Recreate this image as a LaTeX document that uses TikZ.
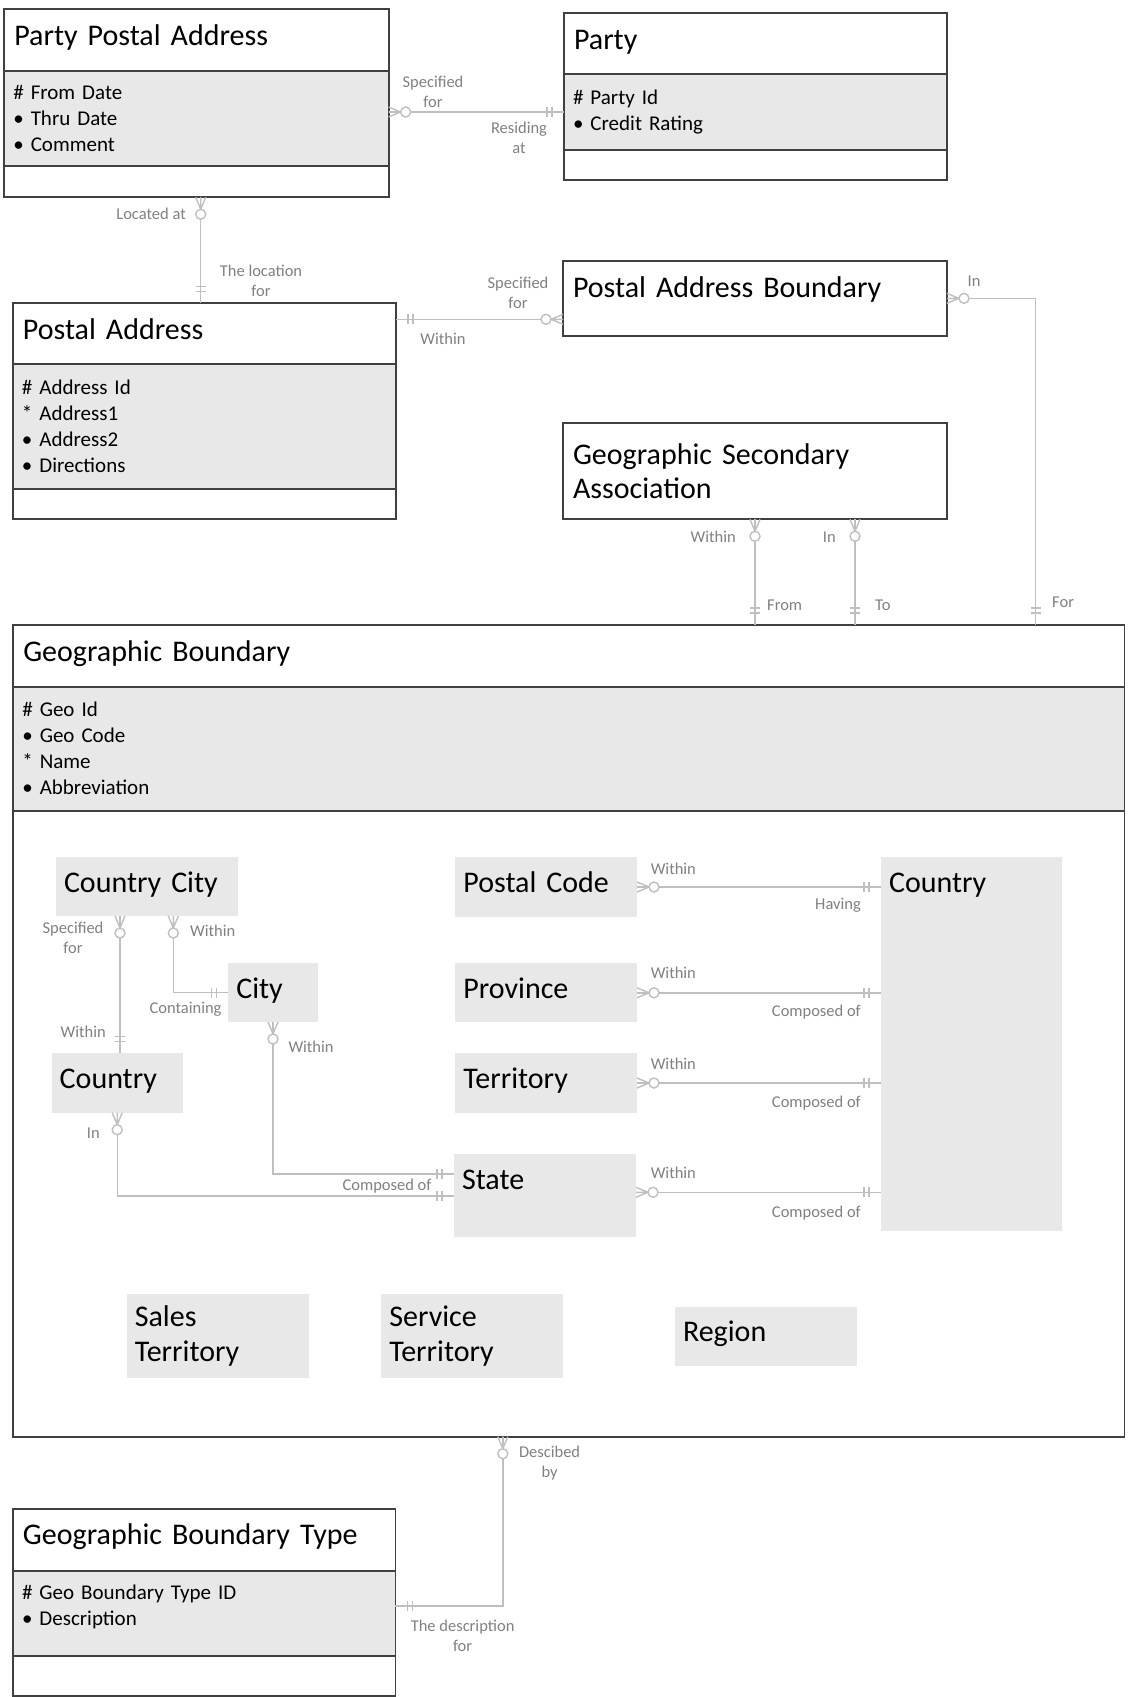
\documentclass[tikz,border=0pt]{standalone}
\usepackage{fontspec}
\setmainfont{Carlito}
\usetikzlibrary{positioning}

\definecolor{entline}{HTML}{404040}
\definecolor{attrgray}{HTML}{E8E8E8}
\definecolor{connline}{HTML}{BFBFBF}
\definecolor{labelgray}{HTML}{808080}

\newcommand{\entfont}{\fontsize{30}{34.7}\selectfont}
\newcommand{\attrfont}{\fontsize{21}{26}\selectfont}
\newcommand{\rolefont}{\fontsize{16.5}{20}\selectfont}

\tikzset{
  ent/.style={draw=entline, line width=1.8pt, anchor=north west, inner sep=0pt, outer sep=0pt},
  enthead/.style={ent, fill=white, font=\entfont, inner xsep=10pt, align=left, text height=36pt},
  entattr/.style={ent, fill=attrgray, font=\attrfont, inner xsep=9pt, align=left},
  entfoot/.style={ent, fill=white},
  subtype/.style={fill=attrgray, anchor=north west, inner xsep=8pt, inner ysep=0pt, outer sep=0pt, font=\entfont, align=left},
  conn/.style={draw=connline, line width=1.4pt},
  rolelabel/.style={font=\rolefont, text=labelgray, inner sep=0pt, align=center},
  pics/manyopt/.style={code={
    \draw[conn] (0,5) -- (12,0) (0,-5) -- (12,0) (0,0) -- (12,0);
    \draw[conn, fill=white] (17,0) circle[radius=5pt];
  }},
  pics/justone/.style={code={
    \draw[conn] (12,-5) -- (12,5) (17,-5) -- (17,5);
  }},
}

\begin{document}
\begin{tikzpicture}[x=1pt, y=-1pt]
	\useasboundingbox (0,0) rectangle (1128,1697);

	% entities
	\node[enthead, text width=364.3pt, text depth=25.4pt] (ppaHead) at (4.3,9.3) {Party Postal Address};
	\node[entattr, text width=366.3pt, minimum height=95.3pt, below=0pt of ppaHead] (ppaAttr) {\# From Date\\• Thru Date\\• Comment};
	\node[entfoot, minimum width=384.3pt, minimum height=31.3pt, below=0pt of ppaAttr] (ppaFoot) {};

	\node[enthead, text width=363pt, text depth=24.7pt] (partyHead) at (564,13.3) {Party};
	\node[entattr, text width=365pt, minimum height=76pt, below=0pt of partyHead] (partyAttr) {\# Party Id\\• Credit Rating};
	\node[entfoot, minimum width=383pt, minimum height=30pt, below=0pt of partyAttr] (partyFoot) {};

	\node[enthead, text width=363.1pt, text depth=25pt] (paHead) at (12.9,303.3) {Postal Address};
	\node[entattr, text width=365.1pt, minimum height=124.7pt, below=0pt of paHead] (paAttr) {\# Address Id\\{*} Address1\\• Address2\\• Directions};
	\node[entfoot, minimum width=383.1pt, minimum height=30.3pt, below=0pt of paAttr] (paFoot) {};

	\node[enthead, text width=364pt, text depth=38.7pt] (pabBox) at (563,261) {Postal Address Boundary};
	\node[ent, fill=white, font=\entfont, inner xsep=10pt, align=left, text width=364pt, minimum height=96pt] (gsaBox) at (563,423.3) {Geographic Secondary\\Association};

	\node[enthead, text width=1091.2pt, text depth=25.7pt] (gbHead) at (13.3,625) {Geographic Boundary};
	\node[entattr, text width=1093.2pt, minimum height=124pt, below=0pt of gbHead] (gbAttr) {\# Geo Id\\• Geo Code\\{*} Name\\• Abbreviation};
	\node[entfoot, minimum width=1111.2pt, minimum height=626pt, below=0pt of gbAttr] (gbFoot) {};

	\node[enthead, text width=362.4pt, text depth=26pt] (gbtHead) at (13,1508.7) {Geographic Boundary Type};
	\node[entattr, text width=364.4pt, minimum height=85.3pt, below=0pt of gbtHead] (gbtAttr) {\# Geo Boundary Type ID\\• Description\\[-10pt]\mbox{}};
	\node[entfoot, minimum width=382.4pt, minimum height=40pt, below=0pt of gbtAttr] (gbtFoot) {};

	% subtypes of geographic boundary
	\node[subtype, text width=165.7pt, text height=35pt, text depth=23.7pt] (ccity) at (56,857.3) {Country City};
	\node[subtype, text width=73.4pt, text height=35pt, text depth=23.7pt] (city) at (228.3,963.3) {City};
	\node[subtype, text width=115pt, text height=35pt, text depth=24.4pt] (ctry) at (51.7,1053.3) {Country};
	\node[subtype, text width=165.6pt, text height=35pt, text depth=24.4pt] (pcode) at (455.4,857.3) {Postal Code};
	\node[subtype, text width=165.6pt, text height=35pt, text depth=24pt] (province) at (455.4,963.3) {Province};
	\node[subtype, text width=165.6pt, text height=35pt, text depth=24.4pt] (territory) at (455.4,1053.3) {Territory};
	\node[subtype, text width=166pt, text height=35pt, text depth=48pt] (state) at (454,1154.3) {State};
	\node[subtype, text width=165pt, text height=35pt, text depth=338.7pt] (ctryBig) at (881,857.3) {Country};
	\node[subtype, text width=165.8pt, minimum height=83.7pt] (sales) at (126.8,1294) {Sales\\Territory};
	\node[subtype, text width=165.7pt, minimum height=83.7pt] (service) at (381.3,1294) {Service\\Territory};
	\node[subtype, text width=165.7pt, text height=35pt, text depth=24.3pt] (region) at (675,1306.7) {Region};

	% relationships
	\draw[conn] (ppaAttr.east |- partyAttr.west) -- (partyAttr.west);
	\pic at (ppaAttr.east |- partyAttr.west) {manyopt};
	\pic[rotate=180] at (partyAttr.west) {justone};

	\coordinate (locTop) at ([xshift=4.25pt]ppaFoot.south);
	\draw[conn] (locTop) -- (locTop |- paHead.north);
	\pic[rotate=-90] at (locTop) {manyopt};
	\pic[rotate=90] at (locTop |- paHead.north) {justone};

	\coordinate (paRight) at ([yshift=-16pt]paHead.north east);
	\draw[conn] (paRight) -- (paRight -| pabBox.west);
	\pic at (paRight) {justone};
	\pic[rotate=180] at (paRight -| pabBox.west) {manyopt};

	\coordinate (forTop) at ([xshift=-88.8pt]gbHead.north east);
	\draw[conn] (pabBox.east) -| (forTop);
	\pic at (pabBox.east) {manyopt};
	\pic[rotate=90] at (forTop) {justone};

	\coordinate (gsaIn) at ([xshift=100pt]gsaBox.south);
	\foreach \from in {gsaBox.south, gsaIn} {
		\draw[conn] (\from) -- (\from |- gbHead.north);
		\pic[rotate=-90] at (\from) {manyopt};
		\pic[rotate=90] at (\from |- gbHead.north) {justone};
	}

	\coordinate (ccSpec) at ([xshift=64pt]ccity.south west);
	\draw[conn] (ccSpec) -- (ccSpec |- ctry.north);
	\pic[rotate=-90] at (ccSpec) {manyopt};
	\pic[rotate=90] at (ccSpec |- ctry.north) {justone};

	\coordinate (ccCont) at ([xshift=117.3pt]ccity.south west);
	\draw[conn] (ccCont) |- (city.west);
	\pic[rotate=-90] at (ccCont) {manyopt};
	\pic[rotate=180] at (city.west) {justone};

	\coordinate (stateUp) at ([yshift=21.8pt]state.west);
	\draw[conn] (city.south) |- (stateUp);
	\pic[rotate=-90] at (city.south) {manyopt};
	\pic[rotate=180] at (stateUp) {justone};

	\draw[conn] (ctry.south) |- (state.west);
	\pic[rotate=-90] at (ctry.south) {manyopt};
	\pic[rotate=180] at (state.west) {justone};

	\coordinate (stateRight) at ([yshift=3.5pt]state.east);
	\foreach \sub in {pcode.east, province.east, territory.east, stateRight} {
		\draw[conn] (\sub) -- (\sub -| ctryBig.west);
		\pic at (\sub) {manyopt};
		\pic[rotate=180] at (\sub -| ctryBig.west) {justone};
	}

	\coordinate (descTop) at ([xshift=489.5pt]gbFoot.south west);
	\coordinate (descEnd) at ([yshift=7.35pt]gbtAttr.east);
	\draw[conn] (descTop) |- (descEnd);
	\pic[rotate=-90] at (descTop) {manyopt};
	\pic at (descEnd) {justone};

	% role names
	\node[rolelabel] (lblSpecParty) at (433,91.5) {Specified\\for};
	\node[rolelabel] (lblResiding) at (519,137.5) {Residing\\at};
	\node[rolelabel, anchor=east] (lblLocated) at (186,214) {Located at};
	\node[rolelabel] (lblLocation) at (261,280.5) {The location\\for};
	\node[rolelabel] (lblWithinPa) at (443,339) {Within};
	\node[rolelabel] (lblSpecPab) at (518,292.5) {Specified\\for};
	\node[rolelabel] (lblInPab) at (974,281) {In};
	\node[rolelabel, anchor=west] (lblFor) at (1052,602) {For};
	\node[rolelabel, anchor=east] (lblWithinGsa) at (736,537) {Within};
	\node[rolelabel, anchor=east] (lblInGsa) at (836,537) {In};
	\node[rolelabel, anchor=west] (lblFrom) at (767,605) {From};
	\node[rolelabel, anchor=west] (lblTo) at (875,605) {To};
	\node[rolelabel] (lblSpecCc) at (73,937.8) {Specified\\for};
	\node[rolelabel, anchor=west] (lblWithinCc) at (190,931) {Within};
	\node[rolelabel, anchor=east] (lblWithinCtry) at (106,1032) {Within};
	\node[rolelabel, anchor=east] (lblContaining) at (221.7,1009) {Containing};
	\node[rolelabel, anchor=west] (lblWithinCity) at (288.3,1046.7) {Within};
	\node[rolelabel, anchor=east] (lblInCtry) at (100,1133) {In};
	\node[rolelabel, anchor=east] (lblComposedState) at (431.7,1185.7) {Composed of};
	\node[rolelabel, anchor=west] (lblWithinPc) at (650.6,869.3) {Within};
	\node[rolelabel, anchor=west] (lblWithinProv) at (650.6,973.3) {Within};
	\node[rolelabel, anchor=west] (lblWithinTerr) at (650.6,1064) {Within};
	\node[rolelabel, anchor=west] (lblWithinState) at (650.6,1172.7) {Within};
	\node[rolelabel, anchor=east] (lblHaving) at (861,905.7) {Having};
	\node[rolelabel, anchor=east] (lblComposedProv) at (861,1012.3) {Composed of};
	\node[rolelabel, anchor=east] (lblComposedTerr) at (861,1103.3) {Composed of};
	\node[rolelabel, anchor=east] (lblComposedCtry) at (861,1213.3) {Composed of};
	\node[rolelabel] (lblDescribed) at (549.6,1462.8) {Descibed\\by};
	\node[rolelabel] (lblDescription) at (462.6,1635.4) {The description\\for};
\end{tikzpicture}
\end{document}
